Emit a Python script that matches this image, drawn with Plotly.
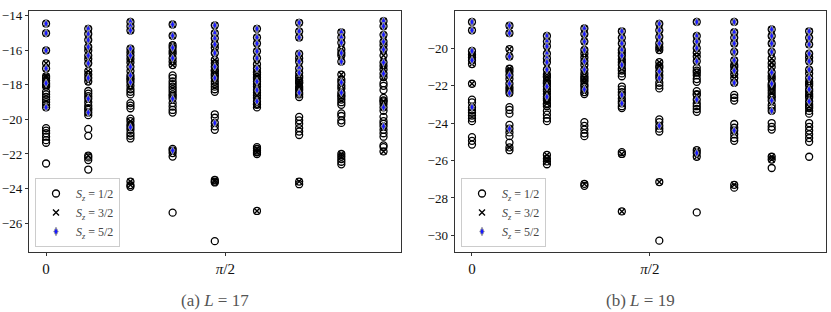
import math
import plotly.graph_objects as go

# ---------------- data ----------------
L_A = 17
L_B = 19

# Panel (a) L = 17 : momentum index n = 0..8, k = 2*pi*n/L
# levels that appear in all sectors up to Sz = 5/2
A_S52 = [
    [-14.45, -15.0, -16.0, -17.05, -17.9, -19.3],
    [-14.75, -15.05, -15.4, -15.8, -16.3, -16.75, -17.6, -18.8, -19.6],
    [-14.35, -14.6, -14.85, -15.9, -16.3, -16.95, -17.45, -17.85, -20.45],
    [-14.5, -15.15, -15.85, -16.45, -18.8, -21.8],
    [-14.55, -15.0, -15.3, -15.65, -16.15, -16.95, -17.6, -20.2],
    [-14.75, -15.25, -15.6, -16.05, -16.45, -17.05, -17.8, -18.3, -18.95],
    [-14.4, -14.9, -15.25, -16.2, -16.65, -17.05, -17.3, -18.45],
    [-14.95, -15.25, -15.55, -16.15, -16.65, -17.85, -18.45],
    [-14.3, -14.6, -15.1, -15.5, -15.95, -16.7, -17.35, -19.3, -20.4],
]
# levels present up to Sz = 3/2 only
A_S32 = [
    [-16.75, -17.5, -17.6, -17.75, -18.0, -18.1],
    [-16.0, -16.5, -17.2, -17.4, -17.8, -22.1],
    [-16.1, -16.5, -16.7, -17.2, -17.6, -17.7, -18.05, -20.1, -20.3, -23.6, -23.8],
    [-15.7, -16.05, -16.2, -16.65, -16.85, -21.95],
    [-15.85, -16.55, -16.75, -17.2, -17.35, -17.8, -23.5, -23.6],
    [-16.8, -17.3, -17.55, -18.1, -18.6, -19.15, -21.7, -21.9, -25.3],
    [-16.45, -17.5, -17.75, -17.9, -18.1, -18.3, -23.6],
    [-15.95, -16.3, -17.4, -18.05, -18.7, -22.0, -22.15],
    [-15.7, -16.3, -16.9, -17.1, -17.55, -18.95, -21.85],
]
# levels present only in Sz = 1/2
A_S12 = [
    [-18.4, -18.55, -18.7, -18.85, -19.0, -19.15, -20.5, -20.65, -20.8, -21.0, -21.2, -21.35, -22.55],
    [-18.35, -18.5, -18.65, -19.0, -19.2, -19.35, -19.45, -19.75, -20.55, -20.95, -22.2, -22.35, -22.9],
    [-18.25, -18.4, -18.55, -19.05, -19.2, -19.35, -19.95, -20.6, -20.8, -20.95, -21.1, -23.9],
    [-17.45, -17.6, -17.8, -17.95, -18.1, -18.25, -18.4, -18.55, -18.65, -19.05, -19.25, -19.45,
     -19.6, -21.7, -22.15, -25.4],
    [-17.15, -17.45, -17.95, -18.1, -18.25, -18.4, -19.7, -19.9, -20.4, -20.6, -23.65, -27.05],
    [-17.25, -17.4, -17.65, -17.95, -18.45, -18.75, -19.1, -19.3, -21.6, -21.8, -22.0],
    [-17.6, -17.85, -18.2, -18.55, -18.7, -19.85, -20.05, -20.25, -20.5, -20.7, -20.9, -23.75],
    [-17.7, -18.2, -18.6, -18.85, -19.0, -19.15, -19.65, -19.8, -20.05, -20.2, -22.3, -22.45, -22.6],
    [-17.9, -18.05, -18.3, -18.75, -18.9, -19.1, -19.5, -19.85, -20.1, -20.25, -20.6, -20.8, -21.0,
     -21.5, -21.6],
]

# Panel (b) L = 19 : momentum index n = 0..9
B_S52 = [
    [-18.6, -19.05, -20.15, -20.65, -23.15],
    [-18.8, -19.2, -20.45, -21.45, -21.9, -22.4, -24.3],
    [-19.35, -19.65, -19.9, -20.3, -20.55, -20.75, -21.15, -22.05, -22.6],
    [-18.95, -19.25, -19.65, -20.1, -20.7, -21.15, -22.2],
    [-19.1, -19.45, -19.75, -20.1, -20.4, -20.9, -22.5, -22.95],
    [-18.7, -19.05, -19.4, -19.75, -21.25, -21.6, -24.15],
    [-18.6, -19.35, -19.65, -20.0, -20.7, -22.75, -25.6],
    [-18.6, -19.15, -19.45, -19.75, -20.2, -20.65, -21.2, -21.85, -24.4],
    [-19.0, -19.35, -19.75, -20.2, -21.3, -21.9, -22.8, -23.35],
    [-19.1, -19.45, -19.8, -20.3, -20.7, -21.15, -21.6, -22.2, -22.85],
]
B_S32 = [
    [-20.35, -20.5, -20.85, -21.9],
    [-20.05, -21.1, -21.25, -21.65, -22.1, -22.25, -25.3],
    [-21.4, -21.55, -21.75, -21.9, -22.3, -22.45, -22.8, -22.95, -25.7, -25.9, -26.05],
    [-20.3, -20.5, -20.9, -21.35, -21.6, -21.8, -22.35, -27.25],
    [-20.25, -20.6, -20.75, -21.1, -25.65, -28.72],
    [-19.95, -20.1, -20.75, -20.95, -21.05, -21.45, -27.15],
    [-20.25, -20.45, -21.3, -22.5, -25.45, -25.8],
    [-20.9, -21.0, -21.4, -21.6, -27.3],
    [-20.55, -20.8, -21.0, -21.5, -21.65, -22.1, -22.4, -25.8, -25.95],
    [-20.5, -21.35, -21.8, -22.0, -22.45, -22.65, -23.1],
]
B_S12 = [
    [-22.75, -22.9, -23.3, -23.45, -23.6, -23.75, -23.9, -24.75, -24.95, -25.15],
    [-23.15, -23.3, -23.5, -24.1, -24.5, -24.7, -25.05, -25.45],
    [-21.5, -21.85, -22.2, -22.7, -23.0, -23.1, -23.35, -23.55, -23.75, -23.9, -26.2],
    [-21.5, -21.7, -21.95, -22.05, -22.45, -23.95, -24.15, -24.35, -24.55, -24.7, -27.35],
    [-21.2, -21.35, -21.5, -22.05, -22.2, -22.35, -22.7, -22.85, -23.1, -23.2, -25.55],
    [-21.85, -22.0, -22.15, -23.8, -23.95, -24.3, -24.45, -30.28],
    [-21.05, -21.2, -21.45, -21.65, -21.8, -22.3, -22.45, -22.95, -23.1, -23.25, -23.4, -28.77],
    [-22.5, -22.65, -22.8, -24.05, -24.25, -24.6, -24.8, -24.95, -27.45],
    [-22.0, -22.25, -22.55, -22.65, -23.05, -23.2, -24.0, -24.2, -24.35, -26.4],
    [-21.9, -22.3, -22.55, -23.0, -23.2, -23.35, -23.5, -24.0, -24.2, -24.4, -24.6, -24.8, -25.0, -25.8],
]

X_TICKVALS = [0, math.pi / 2]
X_TICKTEXT = ["0", "<i>π</i>/2"]
A_YTICKS = [-26, -24, -22, -20, -18, -16, -14]
B_YTICKS = [-30, -28, -26, -24, -22, -20]
LEGEND_NAMES = ["<i>S<sub>z</sub></i> = 1/2",
                "<i>S<sub>z</sub></i> = 3/2",
                "<i>S<sub>z</sub></i> = 5/2"]
CAPTIONS = ["(a) <i>L</i> = 17", "(b) <i>L</i> = 19"]

# ---------------- figure ----------------
W, H = 831, 312
FONT = "Liberation Serif, DejaVu Serif, serif"


def flatten(L, groups):
    xs, ys = [], []
    for n, levels in enumerate(groups):
        k = 2 * math.pi * n / L
        for e in levels:
            xs.append(k)
            ys.append(e)
    return xs, ys


def merge(*lists):
    out = []
    for cols in zip(*lists):
        c = []
        for part in cols:
            c.extend(part)
        out.append(c)
    return out


fig = go.Figure()

panels = [
    (L_A, A_S12, A_S32, A_S52, "x", "y", "legend"),
    (L_B, B_S12, B_S32, B_S52, "x2", "y2", "legend2"),
]

for L, s12, s32, s52, xa, ya, leg in panels:
    circ = merge(s12, s32, s52)
    cross = merge(s32, s52)
    xs, ys = flatten(L, circ)
    fig.add_trace(go.Scatter(
        x=xs, y=ys, mode="markers", xaxis=xa, yaxis=ya, legend=leg,
        name=LEGEND_NAMES[0],
        marker=dict(symbol="circle-open", size=7, color="black",
                    line=dict(width=1.3, color="black")),
    ))
    xs, ys = flatten(L, cross)
    fig.add_trace(go.Scatter(
        x=xs, y=ys, mode="markers", xaxis=xa, yaxis=ya, legend=leg,
        name=LEGEND_NAMES[1],
        marker=dict(symbol="x-thin", size=6, color="black",
                    line=dict(width=1.4, color="black")),
    ))
    xs, ys = flatten(L, s52)
    fig.add_trace(go.Scatter(
        x=xs, y=ys, mode="markers", xaxis=xa, yaxis=ya, legend=leg,
        name=LEGEND_NAMES[2],
        marker=dict(symbol="diamond-tall", size=6, color="#1a1aff",
                    line=dict(width=1.0, color="#999999")),
    ))

axis_common = dict(
    showgrid=False, zeroline=False, showline=True, mirror=True,
    linecolor="#333", linewidth=1, ticks="outside", ticklen=3.5,
    tickwidth=1, tickcolor="#333",
)
YFONT = dict(family=FONT, size=13, color="#111")
XFONT = dict(family=FONT, size=15, color="#111")

XA_DOM = [29.3 / W, 401 / W]
XB_DOM = [455 / W, 826 / W]
Y_DOM = [(H - 251.7) / H, (H - 10.7) / H]

fig.update_layout(
    template="none",
    width=W, height=H,
    margin=dict(l=0, r=0, t=0, b=0, autoexpand=False),
    paper_bgcolor="white", plot_bgcolor="white",
    font=dict(family=FONT, color="#111"),
    xaxis=dict(domain=XA_DOM, range=[-0.147, 3.11], anchor="y",
               tickvals=X_TICKVALS, ticktext=X_TICKTEXT, tickfont=XFONT, **axis_common),
    yaxis=dict(domain=Y_DOM, range=[-27.66, -13.7], anchor="x",
               tickvals=A_YTICKS, tickfont=YFONT, **axis_common),
    xaxis2=dict(domain=XB_DOM, range=[-0.15, 3.125], anchor="y2",
                tickvals=X_TICKVALS, ticktext=X_TICKTEXT, tickfont=XFONT, **axis_common),
    yaxis2=dict(domain=Y_DOM, range=[-30.87, -18.0], anchor="x2",
                tickvals=B_YTICKS, tickfont=YFONT, **axis_common),
    legend=dict(x=35 / W, y=(H - 247) / H, xanchor="left", yanchor="bottom",
                bgcolor="rgba(255,255,255,0.85)", bordercolor="#cccccc",
                borderwidth=1, font=dict(family=FONT, size=12, color="#444"),
                tracegroupgap=0, itemwidth=30),
    legend2=dict(x=461 / W, y=(H - 247) / H, xanchor="left", yanchor="bottom",
                 bgcolor="rgba(255,255,255,0.85)", bordercolor="#cccccc",
                 borderwidth=1, font=dict(family=FONT, size=12, color="#444"),
                 tracegroupgap=0, itemwidth=30),
    showlegend=True,
)

centers = [(XA_DOM[0] + XA_DOM[1]) / 2, (XB_DOM[0] + XB_DOM[1]) / 2]
for cx, text in zip(centers, CAPTIONS):
    fig.add_annotation(
        x=cx, y=(H - 300.5) / H, xref="paper", yref="paper",
        text=text, showarrow=False, xanchor="center", yanchor="middle",
        font=dict(family=FONT, size=17, color="#555"),
    )

fig.write_html(
    "out.html",
    config={"displayModeBar": False},
    post_script="document.body.style.margin='0';document.body.style.overflow='hidden';",
)
